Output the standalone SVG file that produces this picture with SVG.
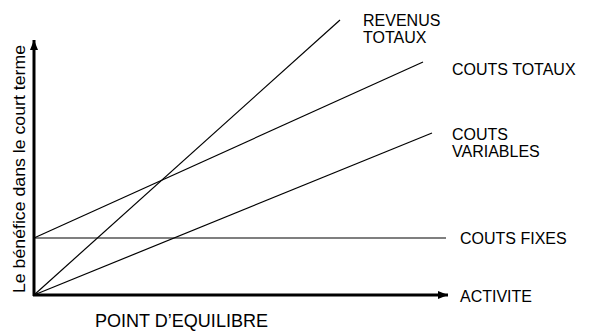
<svg xmlns="http://www.w3.org/2000/svg" width="591" height="334" viewBox="0 0 591 334">
<style>
text{font-family:"Liberation Sans",Arial,sans-serif;font-size:16px;fill:#000}
.thin{stroke:#000;stroke-width:1.2;fill:none}
.axis{stroke:#000;stroke-width:3;fill:none}
</style>
<defs>
<marker id="ah" viewBox="0 0 10 8" refX="10" refY="4" markerWidth="10" markerHeight="8" markerUnits="userSpaceOnUse" orient="auto">
<path d="M0,0 L10,4 L0,8 Z" fill="#000"/>
</marker>
</defs>
<rect width="591" height="334" fill="#fff"/>
<g id="connectors">
<line class="thin" x1="34" y1="238" x2="446" y2="238"/>
<line class="thin" x1="34" y1="295" x2="340" y2="20"/>
<line class="thin" x1="34" y1="238" x2="423" y2="62"/>
<line class="thin" x1="34" y1="295" x2="432" y2="133"/>
<line class="axis" x1="34" y1="296" x2="34" y2="40" marker-end="url(#ah)"/>
<line class="axis" x1="33" y1="295" x2="448" y2="295" marker-end="url(#ah)"/>
</g>
<g id="revenus"><text x="363" y="26">REVENUS</text><text x="363" y="43">TOTAUX</text></g>
<g id="couts-totaux"><text x="452" y="75">COUTS TOTAUX</text></g>
<g id="couts-variables"><text x="452" y="140">COUTS</text><text x="452" y="157">VARIABLES</text></g>
<g id="couts-fixes"><text x="460" y="244">COUTS FIXES</text></g>
<g id="activite"><text x="460" y="302">ACTIVITE</text></g>
<g id="point-equilibre"><text x="95" y="327" style="font-size:17.5px" textLength="173" lengthAdjust="spacingAndGlyphs">POINT D’EQUILIBRE</text></g>
<g id="y-label"><text transform="translate(25,169) rotate(-90)" text-anchor="middle" style="font-size:17px" textLength="248" lengthAdjust="spacingAndGlyphs">Le bénéfice dans le court terme</text></g>
</svg>
